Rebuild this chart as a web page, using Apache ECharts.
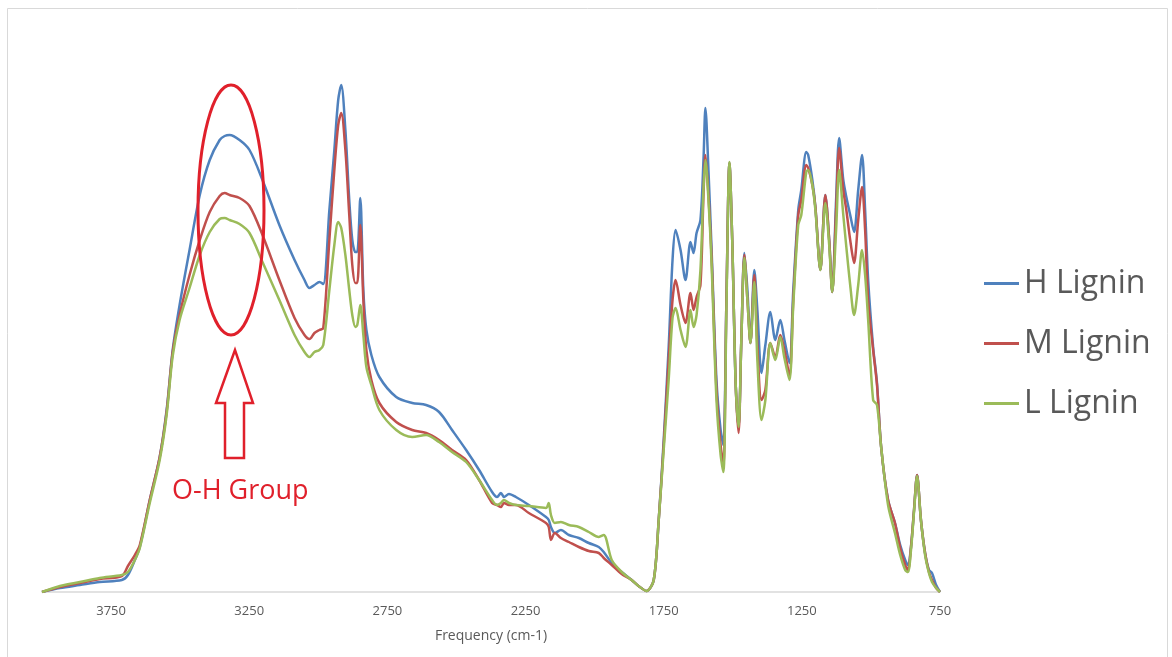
<!DOCTYPE html>
<html>
<head>
<meta charset="utf-8">
<script src="https://cdn.jsdelivr.net/npm/echarts@6/dist/echarts.min.js"></script>
<style>
html,body{margin:0;padding:0;background:#fff;}
#chart{width:1172px;height:657px;}
</style>
</head>
<body>
<div id="chart"></div>
<script>
// Wavenumber (cm-1)
const freq = [4000,3935,3863,3791,3711,3689,3664,3646,3610,3574,3549,3527,3502,3466,3429,3393,3357,3339,3321,3285,3249,3202,3141,3086,3050,3032,3014,2996,2982,2960,2942,2928,2917,2902,2888,2877,2866,2859,2848,2837,2826,2808,2779,2718,2660,2610,2563,2516,2465,2418,2371,2353,2339,2328,2310,2285,2238,2176,2166,2158,2144,2122,2093,2057,2021,1985,1967,1938,1902,1866,1841,1812,1786,1768,1750,1732,1718,1707,1689,1671,1653,1642,1631,1617,1606,1599,1588,1577,1559,1544,1534,1523,1512,1501,1490,1479,1469,1458,1447,1436,1422,1411,1396,1382,1364,1346,1328,1313,1295,1281,1263,1252,1234,1227,1212,1201,1183,1165,1151,1140,1126,1115,1100,1089,1075,1061,1046,1032,1021,1010,992,978,963,938,913,894,876,866,855,844,833,819,804,790,779,764,750];

const hLignin = [0,0.8,1.4,2.0,2.4,3.4,6.4,9.0,18.4,27.0,36.4,48.4,57.4,68.4,79.4,86.4,90.4,91.2,91.4,90.4,88.4,82.4,73.4,66.4,62.4,60.8,61.4,62.0,61.6,76.4,88.4,98.4,101.4,92.4,78.4,70.4,68.0,68.0,78.8,60.4,52.4,47.4,43.0,39.0,37.8,37.4,36.0,32.4,28.4,24.4,20.0,19.0,19.8,19.0,19.6,19.0,17.4,15.0,14.4,13.0,11.8,12.4,11.4,10.8,9.8,9.0,8.0,5.8,4.0,2.4,1.2,0.2,2.4,14.4,30.4,49.0,66.4,72.4,68.4,62.4,70.0,67.8,71.8,74.4,86.4,96.8,84.4,69.0,42.4,32.4,29.4,58.4,85.8,68.4,42.4,33.0,50.4,67.8,60.4,49.8,64.4,56.4,43.8,49.4,56.0,50.4,54.4,50.4,45.8,60.4,76.4,80.4,88.0,87.4,82.4,77.0,64.4,79.4,70.4,60.0,78.4,90.8,82.4,79.0,75.4,72.0,80.4,87.4,76.4,62.4,49.0,41.8,29.0,18.4,13.8,9.4,6.4,5.4,9.0,16.4,23.4,14.4,7.8,4.4,3.8,1.4,0];

const mLignin = [0,1.0,1.8,2.6,3.2,5.2,7.4,9.4,18.4,27.0,36.0,48.0,55.4,63.4,70.4,76.0,79.2,79.8,79.4,78.8,77.2,71.4,62.4,54.8,51.4,50.6,51.8,52.4,52.8,70.4,84.4,93.4,95.8,88.4,75.4,65.4,61.8,61.8,73.4,58.4,48.4,42.4,37.8,34.0,32.4,31.8,30.4,28.4,26.4,22.4,17.8,17.4,17.0,17.8,17.4,17.4,15.8,13.8,13.0,10.4,11.8,10.8,10.0,9.0,8.2,7.8,6.8,5.4,3.6,2.4,1.2,0.2,2.4,14.4,29.4,46.4,58.4,62.4,57.4,53.8,59.8,56.4,59.0,61.4,79.4,87.4,79.4,67.4,40.4,29.4,25.4,58.4,85.8,68.4,42.4,31.8,50.4,67.4,58.4,49.8,63.4,49.4,38.4,40.4,49.8,47.0,51.4,48.4,43.4,58.4,75.4,78.4,85.4,84.8,81.4,77.0,64.4,79.4,70.4,60.0,76.4,88.8,80.4,76.4,70.4,65.8,74.4,81.0,72.4,58.4,48.4,41.4,29.0,18.4,13.8,8.8,5.4,4.4,9.0,16.4,23.4,14.4,7.8,4.0,2.4,0.8,0];

const lLignin = [0,1.2,2.0,2.8,3.4,4.0,6.4,8.8,17.8,26.4,35.4,47.2,54.4,60.8,67.4,72.0,74.6,74.8,74.4,73.6,71.8,66.0,58.4,51.4,48.0,47.0,48.0,48.4,49.4,60.4,69.4,74.0,72.8,67.4,60.4,55.4,53.0,53.4,57.4,51.4,45.0,41.4,36.4,32.4,31.0,31.4,30.0,28.0,26.0,22.4,18.4,17.4,17.8,18.4,17.8,17.4,17.2,16.8,17.8,15.4,13.8,14.0,13.4,13.0,12.0,11.0,11.4,6.4,4.0,2.4,1.2,0.2,2.4,14.4,28.4,42.4,54.8,56.8,52.4,49.0,56.4,53.0,55.4,64.4,80.4,86.4,78.4,66.0,38.4,27.4,24.0,56.4,86.0,68.4,42.4,33.0,50.4,66.8,58.4,49.8,62.0,46.4,34.4,38.4,49.8,46.4,51.0,46.8,42.4,57.4,73.4,75.4,84.0,84.4,81.4,76.4,64.4,77.8,69.4,60.0,72.4,84.4,75.4,69.0,61.4,55.4,61.4,68.4,63.4,54.4,38.4,37.4,29.0,17.4,11.8,7.4,4.4,4.0,8.4,16.0,23.2,14.4,7.4,3.8,2.0,0.8,0];

const seriesNames = ['H Lignin','M Lignin','L Lignin'];
const seriesColors = ['#4F81BD','#C0504D','#9BBB59'];
const xTickStart = 750, xTickEnd = 4000, xTickStep = 500;
const axisTitle = 'Frequency (cm-1)';
const annotationText = 'O-H Group';

function pairs(vals){ return freq.map((f,i)=>[f, vals[i]]); }
const allVals = [hLignin, mLignin, lLignin];

const chart = echarts.init(document.getElementById('chart'), null, {renderer:'canvas'});
const red = '#E0202B';
chart.setOption({
  animation:false,
  backgroundColor:'#ffffff',
  grid:{left:42, right:232, top:42, bottom:65},
  legend:{
    orient:'vertical', left:979, top:262,
    icon:'rect', itemWidth:35, itemHeight:3, itemGap:27,
    textStyle:{fontFamily:'Open Sans', fontSize:32, color:'#595959', lineHeight:33},
    data:seriesNames
  },
  xAxis:{
    type:'value', inverse:true, min:xTickStart, max:xTickEnd, interval:xTickStep,
    name:axisTitle, nameLocation:'middle', nameGap:37,
    nameTextStyle:{fontFamily:'Open Sans', fontSize:14, color:'#595959'},
    axisLine:{show:true, lineStyle:{color:'#d9d9d9', width:1.5}},
    axisTick:{show:false},
    splitLine:{show:false},
    axisLabel:{fontFamily:'Open Sans', fontSize:13, color:'#595959', margin:13, showMaxLabel:false,
      formatter:function(v){return String(v);}}
  },
  yAxis:{type:'value', min:0, max:110, show:false},
  series: seriesNames.map((n,i)=>({
    name:n, type:'line', data:pairs(allVals[i]), showSymbol:false, smooth:0.3,
    lineStyle:{color:seriesColors[i], width:2.5}, itemStyle:{color:seriesColors[i]}
  })),
  graphic:[
    {type:'rect', shape:{x:7.5, y:8.5, width:1160, height:660}, style:{fill:null, stroke:'#d9d9d9', lineWidth:1}, silent:true},
    {type:'ellipse', shape:{cx:231, cy:210, rx:33, ry:125}, style:{fill:null, stroke:red, lineWidth:3}, z:100},
    {type:'polygon', shape:{points:[[235,350],[216,403],[225,403],[225,458],[244,458],[244,403],[253,403]]}, style:{fill:null, stroke:red, lineWidth:2.5}, z:100},
    {type:'text', left:172, top:478, style:{text:annotationText, font:'27px "Open Sans"', fill:red}, z:100}
  ]
});
</script>
</body>
</html>
